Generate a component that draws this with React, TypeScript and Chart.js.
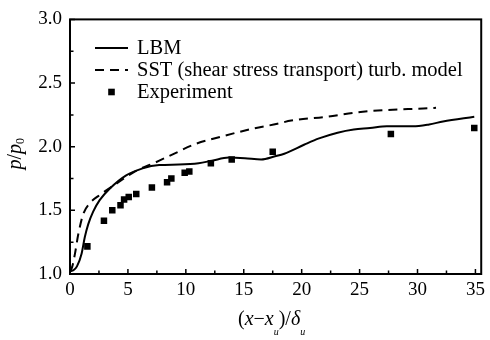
import React, { useEffect, useRef } from "react";
import { Chart, registerables } from "chart.js";

Chart.register(...registerables);

// ---- data ----
const lbmX = [0, 0.3, 0.6, 1.0, 1.28, 1.57, 2.0, 2.56, 3.42, 4.85, 6.27, 7.7, 9.4, 11.1, 12.25, 13.7, 15.1, 16.5, 17.7, 18.5, 20.2, 21.5, 23.1, 24.5, 25.9, 27.35, 29.6, 31.0, 32.2, 34.9];
const lbmY = [1.02, 1.03, 1.06, 1.16, 1.29, 1.39, 1.49, 1.58, 1.67, 1.775, 1.83, 1.856, 1.86, 1.87, 1.89, 1.915, 1.91, 1.9, 1.925, 1.945, 2.015, 2.065, 2.11, 2.135, 2.146, 2.16, 2.16, 2.175, 2.198, 2.236];

const sstX = [0, 0.2, 0.43, 0.71, 1.14, 1.71, 2.56, 4.0, 5.7, 7.4, 9.1, 10.8, 13.1, 15.7, 17.9, 19.1, 22.2, 24.8, 27.1, 30.5, 31.6];
const sstY = [1.02, 1.06, 1.16, 1.31, 1.47, 1.556, 1.62, 1.71, 1.81, 1.877, 1.95, 2.02, 2.08, 2.14, 2.18, 2.205, 2.236, 2.27, 2.287, 2.3, 2.305];

const expX = [1.5, 2.93, 3.65, 4.36, 4.67, 5.07, 5.72, 7.07, 8.38, 8.75, 9.9, 10.3, 12.16, 13.96, 17.5, 27.7, 34.9];
const expY = [1.217, 1.418, 1.5, 1.54, 1.585, 1.605, 1.628, 1.68, 1.72, 1.75, 1.795, 1.805, 1.87, 1.9, 1.96, 2.1, 2.146];

const xTickValues = [0, 5, 10, 15, 20, 25, 30, 35];
const legendLabels = ["LBM", "SST (shear stress transport) turb. model", "Experiment"];

const xMin = 0;
const xMax = 35.5;
const xStep = 5;
const yMin = 1;
const yMax = 3;
const yStep = 0.5;

const FONT = "'Liberation Serif', 'Times New Roman', serif";

const zip = (xs: number[], ys: number[]) => xs.map((x, i) => ({ x, y: ys[i] }));

type Seg = { t: string; italic?: boolean; sub?: boolean };

function drawSegs(ctx: CanvasRenderingContext2D, segs: Seg[], size: number, subSize: number, subShift: number) {
  const fontOf = (s: Seg) => `${s.italic ? "italic " : ""}${s.sub ? subSize : size}px ${FONT}`;
  let w = 0;
  for (const s of segs) {
    ctx.font = fontOf(s);
    w += ctx.measureText(s.t).width;
  }
  let x = -w / 2;
  ctx.textAlign = "left";
  ctx.textBaseline = "alphabetic";
  for (const s of segs) {
    ctx.font = fontOf(s);
    ctx.fillText(s.t, x, s.sub ? subShift : 0);
    x += ctx.measureText(s.t).width;
  }
}

const decorPlugin = {
  id: "decor",
  afterDraw(chart: any) {
    const ctx: CanvasRenderingContext2D = chart.ctx;
    const { left, right, top, bottom } = chart.chartArea;
    const xs = chart.scales.x;
    const ys = chart.scales.y;
    ctx.save();
    ctx.strokeStyle = "#000";
    ctx.fillStyle = "#000";
    // frame
    ctx.lineWidth = 2;
    ctx.strokeRect(left, top, right - left, bottom - top);
    // ticks
    ctx.lineWidth = 1.5;
    ctx.beginPath();
    for (let v = xMin; v <= 35 + 1e-6; v += xStep / 2) {
      const px = xs.getPixelForValue(v);
      const major = Math.abs(v / xStep - Math.round(v / xStep)) < 1e-6;
      ctx.moveTo(px, bottom);
      ctx.lineTo(px, bottom - (major ? 5 : 3.5));
    }
    for (let v = yMin; v <= yMax + 1e-6; v += yStep / 2) {
      const py = ys.getPixelForValue(v);
      const major = Math.abs(v / yStep - Math.round(v / yStep)) < 1e-6;
      ctx.moveTo(left, py);
      ctx.lineTo(left + (major ? 5 : 3.5), py);
    }
    ctx.stroke();

    // legend
    const lx0 = 95, lx1 = 128, tx = 137;
    const rows = [48, 70, 92];
    ctx.lineWidth = 2;
    ctx.setLineDash([]);
    ctx.beginPath();
    ctx.moveTo(lx0, rows[0]);
    ctx.lineTo(lx1, rows[0]);
    ctx.stroke();
    ctx.setLineDash([9, 6]);
    ctx.beginPath();
    ctx.moveTo(lx0, rows[1]);
    ctx.lineTo(lx1, rows[1]);
    ctx.stroke();
    ctx.setLineDash([]);
    ctx.fillRect((lx0 + lx1) / 2 - 3.3, rows[2] - 3.3, 6.6, 6.6);
    ctx.font = `20.5px ${FONT}`;
    ctx.textAlign = "left";
    ctx.textBaseline = "middle";
    legendLabels.forEach((l, i) => ctx.fillText(l, tx, rows[i] + 1));

    // y title
    ctx.save();
    ctx.translate(21, (top + bottom) / 2 + 7);
    ctx.rotate(-Math.PI / 2);
    drawSegs(ctx, [{ t: "p", italic: true }, { t: "/" }, { t: "p", italic: true }, { t: "0", sub: true }], 20, 12, 3);
    ctx.restore();

    // x title
    ctx.save();
    ctx.translate((left + right) / 2 - 4, 325);
    drawSegs(
      ctx,
      [
        { t: "(" },
        { t: "x", italic: true },
        { t: "\u2212" },
        { t: "x", italic: true },
        { t: "u", italic: true, sub: true },
        { t: ")/" },
        { t: "\u03B4", italic: true },
        { t: "u", italic: true, sub: true },
      ],
      20,
      10,
      10
    );
    ctx.restore();
    ctx.restore();
  },
};

export default function App() {
  const ref = useRef<HTMLCanvasElement | null>(null);
  useEffect(() => {
    if (!ref.current) return;
    const chart = new Chart(ref.current, {
      type: "scatter",
      data: {
        datasets: [
          {
            label: legendLabels[0],
            data: zip(lbmX, lbmY),
            showLine: true,
            borderColor: "#000",
            borderWidth: 2,
            pointRadius: 0,
            cubicInterpolationMode: "monotone",
          },
          {
            label: legendLabels[1],
            data: zip(sstX, sstY),
            showLine: true,
            borderColor: "#000",
            borderWidth: 2,
            borderDash: [9, 6],
            pointRadius: 0,
            cubicInterpolationMode: "monotone",
          },
          {
            label: legendLabels[2],
            data: zip(expX, expY),
            showLine: false,
            pointStyle: "rect",
            pointRadius: 4.6,
            backgroundColor: "#000",
            borderColor: "#000",
            borderWidth: 0,
          },
        ],
      } as any,
      options: {
        animation: false,
        responsive: false,
        layout: { padding: { left: 0, top: 14, right: 5, bottom: 0 } },
        plugins: { legend: { display: false }, tooltip: { enabled: false } },
        scales: {
          x: {
            type: "linear",
            min: xMin,
            max: xMax,
            grid: { display: false, drawTicks: false },
            border: { display: false },
            ticks: {
              stepSize: xStep,
              color: "#000",
              padding: 5,
              maxRotation: 0,
              autoSkip: false,
              font: { family: FONT, size: 19 },
            },
            afterBuildTicks: (s: any) => {
              s.ticks = xTickValues.map((v) => ({ value: v }));
            },
            afterFit: (s: any) => {
              s.height = 66;
            },
          },
          y: {
            type: "linear",
            min: yMin,
            max: yMax,
            grid: { display: false, drawTicks: false },
            border: { display: false },
            ticks: {
              stepSize: yStep,
              color: "#000",
              padding: 8,
              font: { family: FONT, size: 19 },
              callback: (v: any) => Number(v).toFixed(1),
            },
            afterFit: (s: any) => {
              s.width = 70;
            },
          },
        },
      } as any,
      plugins: [decorPlugin],
    });
    return () => chart.destroy();
  }, []);
  return (
    <div style={{ position: "fixed", left: 0, top: 0, width: 490, height: 340, background: "#fff" }}>
      <canvas ref={ref} width={490} height={340} />
    </div>
  );
}
